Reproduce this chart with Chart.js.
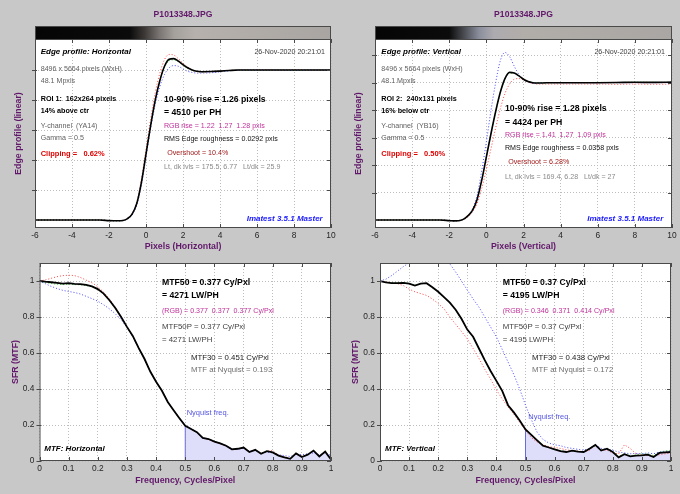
<!DOCTYPE html>
<html>
<head>
<meta charset="utf-8">
<title>P1013348.JPG - edge profile and MTF</title>
<script src="https://cdn.jsdelivr.net/npm/chart.js@4.4.1/dist/chart.umd.min.js"></script>
<style>
  html, body { margin: 0; padding: 0; background: #c8c8c8; }
  #wrap { position: relative; width: 680px; height: 494px; overflow: hidden; }
  #wrap canvas { position: absolute; left: 0; top: 0; }
</style>
</head>
<body>
<div id="wrap">
  <canvas id="edgeH" width="680" height="494"></canvas>
  <canvas id="edgeV" width="680" height="494"></canvas>
  <canvas id="mtfH" width="680" height="494"></canvas>
  <canvas id="mtfV" width="680" height="494"></canvas>
</div>
<script>
const fileName = "P1013348.JPG";

// edge profile, pixels from the edge centre
const edgeX = [-6, -5, -4, -3, -2.5, -2, -1.75, -1.5, -1.25, -1, -0.75, -0.5, -0.25, 0, 0.25, 0.5, 0.75, 1, 1.25, 1.5, 1.75, 2, 2.25, 2.5, 2.75, 3, 3.5, 4, 4.5, 5, 6, 7, 8, 9, 10];

const edgeH_Y = [0, 0, 0, 0, 0, -0.004, -0.005, -0.005, -0.003, 0.01, 0.04, 0.11, 0.25, 0.44, 0.63, 0.80, 0.93, 1.025, 1.072, 1.076, 1.06, 1.036, 1.015, 1.0, 0.992, 0.989, 0.99, 0.993, 0.997, 1.0, 1.0, 1.0, 1.0, 1.0, 1.0];
const edgeH_R = [0, 0, 0, 0, 0, -0.003, -0.004, -0.004, -0.002, 0.012, 0.045, 0.12, 0.27, 0.47, 0.67, 0.85, 0.98, 1.07, 1.104, 1.1, 1.076, 1.046, 1.02, 1.0, 0.99, 0.987, 0.99, 0.995, 0.998, 1.0, 1.002, 1.0, 1.002, 1.0, 1.001];
const edgeH_G = [0, 0, 0, 0, 0, -0.004, -0.005, -0.005, -0.003, 0.01, 0.04, 0.11, 0.25, 0.44, 0.63, 0.80, 0.93, 1.02, 1.062, 1.068, 1.055, 1.032, 1.012, 0.998, 0.99, 0.988, 0.99, 0.993, 0.997, 1.0, 0.999, 1.0, 0.999, 1.0, 1.0];
const edgeH_B = [0, 0, 0, 0, 0, -0.004, -0.005, -0.005, -0.003, 0.008, 0.035, 0.10, 0.23, 0.42, 0.61, 0.77, 0.89, 0.97, 1.015, 1.03, 1.025, 1.008, 0.992, 0.984, 0.98, 0.98, 0.982, 0.988, 0.995, 1.0, 0.999, 1.0, 0.998, 1.0, 0.999];

const edgeV_Y = [0, 0, 0, 0, 0, -0.004, -0.006, -0.005, 0.005, 0.03, 0.07, 0.15, 0.29, 0.46, 0.63, 0.79, 0.93, 1.03, 1.075, 1.07, 1.05, 1.025, 1.008, 1.0, 0.998, 0.998, 1.0, 1.0, 1.0, 1.0, 1.0, 1.001, 1.003, 1.002, 1.004];
const edgeV_R = [0, 0, 0, 0, 0, -0.004, -0.005, -0.004, 0.004, 0.02, 0.06, 0.12, 0.23, 0.37, 0.52, 0.67, 0.81, 0.92, 0.99, 1.025, 1.03, 1.02, 1.005, 0.995, 0.99, 0.99, 0.99, 0.99, 0.99, 0.99, 0.99, 0.988, 0.99, 0.988, 0.99];
const edgeV_G = [0, 0, 0, 0, 0, -0.004, -0.006, -0.005, 0.005, 0.03, 0.07, 0.15, 0.29, 0.46, 0.63, 0.79, 0.925, 1.025, 1.07, 1.068, 1.048, 1.024, 1.008, 1.0, 0.998, 0.998, 1.0, 1.0, 1.001, 1.0, 1.002, 1.0, 1.004, 1.002, 1.003];
const edgeV_B = [0, 0, 0, 0, 0, -0.004, -0.006, -0.005, 0.005, 0.03, 0.08, 0.18, 0.36, 0.57, 0.80, 1.0, 1.16, 1.22, 1.19, 1.12, 1.06, 1.025, 1.005, 0.995, 0.997, 1.0, 1.0, 1.0, 1.0, 1.0, 1.0, 1.0, 1.0, 1.0, 1.0];

// MTF, cycles/pixel
const mtfX = [0, 0.02, 0.04, 0.06, 0.08, 0.1, 0.12, 0.14, 0.16, 0.18, 0.2, 0.22, 0.24, 0.26, 0.28, 0.3, 0.32, 0.34, 0.36, 0.38, 0.4, 0.42, 0.44, 0.46, 0.48, 0.5, 0.52, 0.54, 0.56, 0.58, 0.6, 0.62, 0.64, 0.66, 0.68, 0.7, 0.72, 0.74, 0.76, 0.78, 0.8, 0.82, 0.84, 0.86, 0.88, 0.9, 0.92, 0.94, 0.96, 0.98, 1];

const mtfH_Y = [1.000, 0.996, 0.993, 0.990, 0.985, 0.988, 0.984, 0.983, 0.978, 0.970, 0.955, 0.930, 0.893, 0.850, 0.800, 0.745, 0.695, 0.628, 0.568, 0.497, 0.440, 0.390, 0.328, 0.282, 0.238, 0.195, 0.178, 0.160, 0.128, 0.122, 0.108, 0.098, 0.085, 0.065, 0.068, 0.075, 0.050, 0.062, 0.040, 0.055, 0.048, 0.030, 0.020, 0.012, 0.042, 0.022, 0.035, 0.058, 0.025, 0.052, 0.008];
const mtfH_R = [1.000, 1.006, 1.015, 1.024, 1.030, 1.032, 1.030, 1.020, 1.005, 0.990, 0.968, 0.938, 0.900, 0.855, 0.802, 0.745, 0.693, 0.628, 0.566, 0.497, 0.440, 0.388, 0.327, 0.280, 0.236, 0.195, 0.176, 0.158, 0.127, 0.120, 0.106, 0.096, 0.083, 0.066, 0.067, 0.073, 0.052, 0.060, 0.043, 0.053, 0.058, 0.032, 0.022, 0.015, 0.040, 0.025, 0.033, 0.055, 0.028, 0.050, 0.012];
const mtfH_G = [1.000, 0.992, 0.986, 0.982, 0.980, 0.982, 0.980, 0.979, 0.975, 0.968, 0.953, 0.928, 0.891, 0.848, 0.798, 0.744, 0.694, 0.627, 0.567, 0.496, 0.440, 0.390, 0.328, 0.282, 0.238, 0.195, 0.178, 0.160, 0.128, 0.122, 0.108, 0.098, 0.085, 0.065, 0.068, 0.075, 0.050, 0.062, 0.040, 0.055, 0.048, 0.030, 0.020, 0.012, 0.042, 0.022, 0.035, 0.058, 0.025, 0.052, 0.008];
const mtfH_B = [1.000, 0.985, 0.970, 0.958, 0.948, 0.942, 0.936, 0.928, 0.915, 0.902, 0.888, 0.868, 0.845, 0.818, 0.785, 0.742, 0.690, 0.626, 0.566, 0.498, 0.442, 0.392, 0.330, 0.283, 0.240, 0.196, 0.180, 0.158, 0.130, 0.120, 0.110, 0.096, 0.086, 0.068, 0.066, 0.070, 0.055, 0.058, 0.045, 0.050, 0.045, 0.035, 0.030, 0.025, 0.038, 0.035, 0.040, 0.045, 0.035, 0.045, 0.030];

const mtfV_Y = [1.000, 0.992, 0.988, 0.988, 0.990, 0.985, 0.975, 0.985, 0.988, 0.965, 0.940, 0.910, 0.880, 0.840, 0.790, 0.730, 0.690, 0.625, 0.560, 0.500, 0.445, 0.390, 0.310, 0.270, 0.225, 0.175, 0.145, 0.115, 0.085, 0.075, 0.065, 0.055, 0.050, 0.058, 0.052, 0.050, 0.068, 0.090, 0.058, 0.068, 0.050, 0.020, 0.038, 0.026, 0.030, 0.031, 0.035, 0.022, 0.045, 0.048, 0.050];
const mtfV_R = [1.000, 0.995, 0.990, 0.985, 0.975, 0.955, 0.940, 0.930, 0.920, 0.900, 0.875, 0.845, 0.800, 0.760, 0.720, 0.678, 0.625, 0.570, 0.510, 0.455, 0.395, 0.345, 0.300, 0.260, 0.215, 0.170, 0.130, 0.105, 0.090, 0.080, 0.075, 0.070, 0.062, 0.058, 0.055, 0.052, 0.060, 0.085, 0.065, 0.060, 0.045, 0.040, 0.090, 0.070, 0.040, 0.035, 0.030, 0.028, 0.035, 0.040, 0.045];
const mtfV_G = [1.000, 0.994, 0.990, 0.990, 0.992, 0.986, 0.977, 0.985, 0.986, 0.963, 0.938, 0.908, 0.878, 0.838, 0.788, 0.729, 0.689, 0.624, 0.560, 0.500, 0.445, 0.390, 0.310, 0.270, 0.225, 0.175, 0.146, 0.116, 0.087, 0.076, 0.066, 0.057, 0.052, 0.058, 0.054, 0.052, 0.066, 0.085, 0.060, 0.066, 0.052, 0.026, 0.040, 0.030, 0.034, 0.040, 0.038, 0.030, 0.048, 0.055, 0.060];
const mtfV_B = [1.000, 1.010, 1.030, 1.055, 1.080, 1.100, 1.120, 1.140, 1.150, 1.150, 1.140, 1.120, 1.095, 1.050, 1.000, 0.950, 0.900, 0.855, 0.800, 0.745, 0.690, 0.620, 0.550, 0.480, 0.400, 0.310, 0.230, 0.160, 0.120, 0.100, 0.090, 0.085, 0.075, 0.070, 0.065, 0.060, 0.070, 0.090, 0.070, 0.065, 0.060, 0.050, 0.045, 0.040, 0.042, 0.040, 0.045, 0.040, 0.050, 0.055, 0.050];

const nyquist = 0.5;
const edgeTicks = { min: -6, max: 10, step: 2 };
const freqTicks = { min: 0, max: 1, step: 0.1 };
const sfrTicks = { min: 0, max: 1.1, step: 0.2 };

const FONT = '"Liberation Sans", Arial, Helvetica, sans-serif';
const PURPLE = "#62186a";
const FRAME = "#4a4a4a";
const GRID = "#bdbdbd";
const MAGENTA = "#c0309a";
const FONTS = {
  head: "bold 8.7px ",
  lab: "italic bold 8px ",
  inf: "7.1px ",
  inf2: "7.8px ",
  infB: "bold 7.2px ",
  clip: "bold 7.5px ",
  nyq: "7.5px ",
};

function pts(xs, ys) {
  return xs.map((x, i) => ({ x: x, y: ys[i] }));
}

function onGrid(step) {
  return function (axis) {
    axis.ticks = axis.ticks.filter((t) => Math.abs(t.value / step - Math.round(t.value / step)) < 1e-6);
  };
}

function line(label, xs, ys, color, dotted, smooth) {
  return {
    label: label,
    data: pts(xs, ys),
    borderColor: color,
    borderWidth: dotted ? 1 : (smooth ? 1.6 : 1.8),
    borderDash: dotted ? [1, 2] : [],
    pointRadius: 0,
    fill: false,
    tension: 0,
    cubicInterpolationMode: smooth ? "monotone" : "default",
  };
}

/* white plot box, edge-image strip, file title, frame, small ticks, annotations */
const panelPlugin = {
  id: "panel",
  beforeDraw(chart, args, opts) {
    const { ctx, chartArea: a } = chart;
    ctx.save();
    ctx.fillStyle = "#ffffff";
    ctx.fillRect(a.left, a.top, a.width, a.height);
    if (opts.strip) {
      const g = ctx.createLinearGradient(a.left, 0, a.right, 0);
      opts.strip.forEach((s) => g.addColorStop(s[0], s[1]));
      ctx.fillStyle = g;
      ctx.fillRect(a.left, a.top - 13, a.width, 13);
      ctx.strokeStyle = FRAME;
      ctx.lineWidth = 1;
      ctx.strokeRect(a.left + 0.5, a.top - 12.5, a.width - 1, 13);
      ctx.font = "bold 8.6px " + FONT;
      ctx.fillStyle = PURPLE;
      ctx.textAlign = "center";
      ctx.textBaseline = "middle";
      ctx.fillText(fileName, (a.left + a.right) / 2, 15);
    }
    ctx.restore();
  },
  afterDraw(chart, args, opts) {
    const { ctx, chartArea: a, scales } = chart;
    ctx.save();
    ctx.strokeStyle = FRAME;
    ctx.lineWidth = 1;
    ctx.strokeRect(a.left + 0.5, a.top + 0.5, a.width - 1, a.height - 1);
    ctx.beginPath();
    scales.x.ticks.forEach((t) => {
      const px = Math.round(scales.x.getPixelForValue(t.value)) + 0.5;
      ctx.moveTo(px, a.top); ctx.lineTo(px, a.top + 4);
      ctx.moveTo(px, a.bottom); ctx.lineTo(px, a.bottom - 4);
    });
    scales.y.ticks.forEach((t) => {
      const py = Math.round(scales.y.getPixelForValue(t.value)) + 0.5;
      ctx.moveTo(a.left - 3, py); ctx.lineTo(a.left + 2, py);
      ctx.moveTo(a.right, py); ctx.lineTo(a.right - 4, py);
    });
    ctx.stroke();
    ctx.textBaseline = "middle";
    (opts.texts || []).forEach((t) => {
      ctx.font = FONTS[t[3]] + FONT;
      ctx.fillStyle = t[4] || "#000";
      ctx.textAlign = t[5] || "left";
      ctx.fillText(t[0], t[1], t[2]);
    });
    ctx.restore();
  },
};

function axis(rng, title, extent, showLabels, titlePad, vertical) {
  const o = {
    type: "linear",
    min: rng.min,
    max: rng.max,
    afterBuildTicks: onGrid(rng.step),
    ticks: {
      display: showLabels,
      stepSize: rng.step,
      autoSkip: false,
      maxRotation: 0,
      padding: vertical ? 5 : 3,
      color: "#262626",
      font: { family: FONT, size: 8.4 },
      callback: (v) => String(Math.round(v * 10) / 10),
    },
    grid: { color: GRID, lineWidth: 1, drawTicks: false },
    border: { display: false, dash: [1, 2] },
    title: {
      display: true,
      text: title,
      color: PURPLE,
      font: { family: FONT, size: 8.8, weight: "bold" },
      padding: { top: titlePad, bottom: 0 },
    },
  };
  if (vertical) o.afterFit = (s) => { s.width = extent; };
  else o.afterFit = (s) => { s.height = extent; };
  return o;
}

function build(id, box, xAxis, yAxis, datasets, panel) {
  return new Chart(document.getElementById(id), {
    type: "line",
    data: { datasets: datasets },
    plugins: [panelPlugin],
    options: {
      responsive: false,
      animation: false,
      events: [],
      layout: {
        padding: { left: box.l - box.wy, top: box.t, right: 680 - box.r, bottom: 494 - box.b - box.hx },
      },
      scales: { x: xAxis, y: yAxis },
      plugins: { legend: { display: false }, tooltip: { enabled: false }, panel: panel },
    },
  });
}

function edgeSets(y, r, g, b) {
  return [
    line("Y", edgeX, y, "#000000", false, true),
    line("G", edgeX, g, "#2fbf2f", true, true),
    line("R", edgeX, r, "#ff4545", true, true),
    line("B", edgeX, b, "#4a4aff", true, true),
  ];
}

function mtfSets(y, r, g, b) {
  const fromNyq = mtfX.map((x, i) => i).filter((i) => mtfX[i] >= nyquist - 1e-9);
  const atNyq = y[fromNyq[0]];
  return [
    line("Y", mtfX, y, "#000000", false, false),
    line("G", mtfX, g, "#2fbf2f", true, false),
    line("R", mtfX, r, "#ff4545", true, false),
    line("B", mtfX, b, "#4a4aff", true, false),
    {
      label: "Nyquist",
      data: [{ x: nyquist, y: 0 }, { x: nyquist, y: atNyq }],
      borderColor: "#6a6ad8",
      borderWidth: 1,
      pointRadius: 0,
      fill: false,
    },
    {
      label: "above Nyquist",
      data: fromNyq.map((i) => ({ x: mtfX[i], y: y[i] })),
      borderWidth: 0,
      borderColor: "rgba(0,0,0,0)",
      backgroundColor: "#dedefb",
      pointRadius: 0,
      fill: "origin",
      tension: 0,
    },
  ];
}

const edgeRange = { min: -0.053, max: 1.207, step: 0.2 };
const edgeRangeV = { min: -0.058, max: 1.318, step: 0.2 };

build("edgeH", { l: 35, t: 39, r: 331, b: 228, wy: 35, hx: 24 },
  axis(edgeTicks, "Pixels (Horizontal)", 24, true, 0, false),
  axis(edgeRange, "Edge profile (linear)", 35, false, 13, true),
  edgeSets(edgeH_Y, edgeH_R, edgeH_G, edgeH_B),
  {
    strip: [[0, "#050505"], [0.32, "#0b0b0b"], [0.37, "#3c3836"], [0.42, "#7a7572"], [0.47, "#a4a09c"], [0.54, "#b6b1ac"], [1, "#a9a5a2"]],
    texts: [
      ["Edge profile: Horizontal", 40.7, 51.7, "lab", "#000"],
      ["26-Nov-2020 20:21:01", 325, 51.7, "inf", "#404040", "right"],
      ["8496 x 5664 pixels (WxH)", 40.7, 69, "inf", "#606060"],
      ["48.1 Mpxls", 40.7, 81, "inf", "#606060"],
      ["ROI 1:  162x264 pixels", 40.7, 99, "infB", "#000"],
      ["14% above ctr", 40.7, 111, "infB", "#000"],
      ["Y-channel  (YA14)", 40.7, 126, "inf", "#606060"],
      ["Gamma = 0.5", 40.7, 137.7, "inf", "#606060"],
      ["Clipping =   0.62%", 40.7, 153.7, "clip", "#e00000"],
      ["10-90% rise = 1.26 pixels", 164, 99.7, "head", "#000"],
      ["= 4510 per PH", 164, 112.3, "head", "#000"],
      ["RGB rise = 1.22  1.27  1.28 pxls", 164, 126.3, "inf", MAGENTA],
      ["RMS Edge roughness = 0.0292 pxls", 164, 138.7, "inf", "#101010"],
      ["Overshoot = 10.4%", 167.3, 152.7, "inf", "#a01818"],
      ["Lt, dk lvls = 175.5, 6.77   Lt/dk = 25.9", 164, 167.3, "inf", "#8a8a8a"],
      ["Imatest 3.5.1 Master", 322.7, 218.3, "lab", "#1a1aff", "right"],
    ],
  });

build("edgeV", { l: 375, t: 39, r: 672, b: 228, wy: 35, hx: 24 },
  axis(edgeTicks, "Pixels (Vertical)", 24, true, 0, false),
  axis(edgeRangeV, "Edge profile (linear)", 35, false, 13, true),
  edgeSets(edgeV_Y, edgeV_R, edgeV_G, edgeV_B),
  {
    strip: [[0, "#050505"], [0.25, "#0b0b0b"], [0.3, "#4a4c52"], [0.35, "#8a8e9c"], [0.4, "#aeabb0"], [0.5, "#b1ada9"], [1, "#aaa6a3"]],
    texts: [
      ["Edge profile: Vertical", 381.3, 51.7, "lab", "#000"],
      ["26-Nov-2020 20:21:01", 665, 51.7, "inf", "#404040", "right"],
      ["8496 x 5664 pixels (WxH)", 381.3, 69, "inf", "#606060"],
      ["48.1 Mpxls", 381.3, 81, "inf", "#606060"],
      ["ROI 2:  240x131 pixels", 381.3, 99, "infB", "#000"],
      ["16% below ctr", 381.3, 111, "infB", "#000"],
      ["Y-channel  (YB16)", 381.3, 126, "inf", "#606060"],
      ["Gamma = 0.5", 381.3, 137.7, "inf", "#606060"],
      ["Clipping =   0.50%", 381.3, 154, "clip", "#e00000"],
      ["10-90% rise = 1.28 pixels", 505, 109, "head", "#000"],
      ["= 4424 per PH", 505, 122.7, "head", "#000"],
      ["RGB rise = 1.41  1.27  1.09 pxls", 505, 135, "inf", MAGENTA],
      ["RMS Edge roughness = 0.0358 pxls", 505, 147.7, "inf", "#101010"],
      ["Overshoot = 6.28%", 508.3, 161.7, "inf", "#a01818"],
      ["Lt, dk lvls = 169.4, 6.28   Lt/dk = 27", 505, 177.3, "inf", "#8a8a8a"],
      ["Imatest 3.5.1 Master", 663.3, 218.3, "lab", "#1a1aff", "right"],
    ],
  });

build("mtfH", { l: 39.5, t: 263, r: 331, b: 461, wy: 39.5, hx: 24.6 },
  axis(freqTicks, "Frequency, Cycles/Pixel", 24.6, true, 0, false),
  axis(sfrTicks, "SFR (MTF)", 39.5, true, 10, true),
  mtfSets(mtfH_Y, mtfH_R, mtfH_G, mtfH_B),
  {
    texts: [
      ["MTF50 = 0.377 Cy/Pxl", 162, 282.7, "head", "#000"],
      ["= 4271 LW/PH", 162, 295.7, "head", "#000"],
      ["(RGB) = 0.377  0.377  0.377 Cy/Pxl", 162, 310.7, "inf", MAGENTA],
      ["MTF50P = 0.377 Cy/Pxl", 162, 327, "inf2", "#404040"],
      ["= 4271 LW/PH", 162, 340, "inf2", "#404040"],
      ["MTF30 = 0.451 Cy/Pxl", 191, 357.7, "inf2", "#202020"],
      ["MTF at Nyquist = 0.193", 191, 370.3, "inf2", "#707070"],
      ["Nyquist freq.", 186.7, 413.3, "nyq", "#5656e0"],
      ["MTF: Horizontal", 44.3, 449, "lab", "#000"],
    ],
  });

build("mtfV", { l: 380, t: 263, r: 671, b: 461, wy: 40, hx: 24.6 },
  axis(freqTicks, "Frequency, Cycles/Pixel", 24.6, true, 0, false),
  axis(sfrTicks, "SFR (MTF)", 40, true, 10, true),
  mtfSets(mtfV_Y, mtfV_R, mtfV_G, mtfV_B),
  {
    texts: [
      ["MTF50 = 0.37 Cy/Pxl", 502.7, 282.7, "head", "#000"],
      ["= 4195 LW/PH", 502.7, 295.7, "head", "#000"],
      ["(RGB) = 0.346  0.371  0.414 Cy/Pxl", 502.7, 310.7, "inf", MAGENTA],
      ["MTF50P = 0.37 Cy/Pxl", 502.7, 327, "inf2", "#404040"],
      ["= 4195 LW/PH", 502.7, 340, "inf2", "#404040"],
      ["MTF30 = 0.438 Cy/Pxl", 532, 357.7, "inf2", "#202020"],
      ["MTF at Nyquist = 0.172", 532, 370.3, "inf2", "#707070"],
      ["Nyquist freq.", 528.3, 416.7, "nyq", "#5656e0"],
      ["MTF: Vertical", 385, 449, "lab", "#000"],
    ],
  });
</script>
</body>
</html>
